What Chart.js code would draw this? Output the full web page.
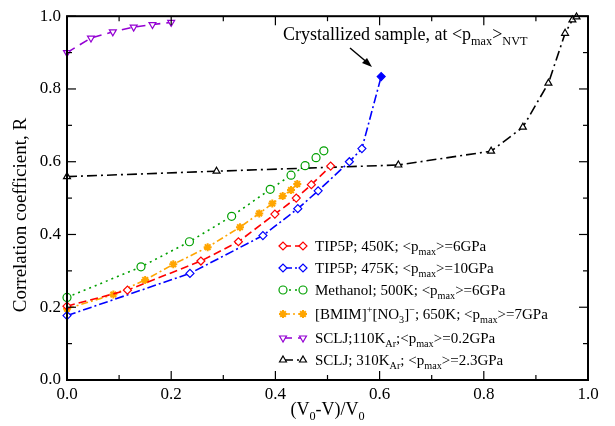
<!DOCTYPE html>
<html>
<head>
<meta charset="utf-8">
<script src="https://cdn.jsdelivr.net/npm/chart.js@4.4.0/dist/chart.umd.min.js"></script>
<style>
  html, body { margin: 0; padding: 0; background: #fff; }
  #wrap { width: 615px; height: 426px; }
</style>
</head>
<body>
<div id="wrap"><canvas id="corrChart" width="615" height="426"></canvas></div>
<script>
// values
const tip450X = [0, 0.116, 0.257, 0.329, 0.399, 0.44, 0.469, 0.506];
const tip450Y = [0.203, 0.247, 0.327, 0.38, 0.456, 0.5, 0.537, 0.588];

const tip475X = [0, 0.236, 0.376, 0.443, 0.482, 0.542, 0.566, 0.603];
const tip475Y = [0.177, 0.293, 0.397, 0.471, 0.52, 0.6, 0.636, 0.834];

const methX = [0, 0.142, 0.235, 0.316, 0.39, 0.43, 0.457, 0.478, 0.493];
const methY = [0.227, 0.311, 0.38, 0.45, 0.524, 0.563, 0.589, 0.611, 0.63];

const bmimX = [0, 0.089, 0.15, 0.204, 0.27, 0.332, 0.369, 0.394, 0.414, 0.43, 0.442];
const bmimY = [0.196, 0.235, 0.275, 0.318, 0.365, 0.42, 0.458, 0.485, 0.506, 0.522, 0.539];

const sclj110X = [0, 0.046, 0.088, 0.128, 0.164, 0.2];
const sclj110Y = [0.90, 0.94, 0.957, 0.97, 0.977, 0.983];

const sclj310X = [0, 0.287, 0.636, 0.814, 0.875, 0.924, 0.956, 0.97, 0.978];
const sclj310Y = [0.559, 0.574, 0.591, 0.629, 0.695, 0.816, 0.953, 0.99, 0.998];

const tickValues = [0, 0.2, 0.4, 0.6, 0.8, 1.0];

const serif = "'Liberation Serif', 'DejaVu Serif', serif";

function pts(xs, ys) {
  return xs.map((x, i) => ({ x: x, y: ys[i] }));
}

function makeSet(label, xs, ys, color, style, dash, extra) {
  return Object.assign({
    label: label,
    data: pts(xs, ys),
    borderColor: color,
    backgroundColor: "#fff",
    pointBorderColor: color,
    pointBackgroundColor: "#fff",
    pointStyle: style,
    pointRadius: 4,
    pointBorderWidth: 1.2,
    borderWidth: 1.6,
    borderDash: dash,
    tension: 0,
    clip: false,
  }, extra || {});
}

// blue run ends on the filled "crystallized" point
const blueFill = tip475X.map((v, i) => (i === tip475X.length - 1 ? "#0000ff" : "#fff"));

const datasets = [
  makeSet("TIP5P; 450K", tip450X, tip450Y, "#ff0000", "rectRot", [8, 4]),
  makeSet("TIP5P; 475K", tip475X, tip475Y, "#0000ff", "rectRot", [9, 3, 2, 3], { pointBackgroundColor: blueFill }),
  makeSet("Methanol", methX, methY, "#00a000", "circle", [2, 4]),
  makeSet("BMIM", bmimX, bmimY, "#ffa500", "star", [7, 3, 2, 3], { pointBorderWidth: 2, pointBackgroundColor: "#ffa500" }),
  makeSet("SCLJ 110K", sclj110X, sclj110Y, "#9400d3", "triangle", [9, 6], { pointRotation: 180 }),
  makeSet("SCLJ 310K", sclj310X, sclj310Y, "#000000", "triangle", [10, 4, 2, 4]),
];

const legendRows = [
  { ds: 0, y: 246, parts: [["TIP5P; 450K; <p"], ["max", "sub"], [">=6GPa"]] },
  { ds: 1, y: 268, parts: [["TIP5P; 475K; <p"], ["max", "sub"], [">=10GPa"]] },
  { ds: 2, y: 290, parts: [["Methanol; 500K; <p"], ["max", "sub"], [">=6GPa"]] },
  { ds: 3, y: 314, parts: [["[BMIM]"], ["+", "sup"], ["[NO"], ["3", "sub"], ["]"], ["\u2212", "sup"], ["; 650K; <p"], ["max", "sub"], [">=7GPa"]] },
  { ds: 4, y: 338, parts: [["SCLJ;110K"], ["Ar", "sub"], [";<p"], ["max", "sub"], [">=0.2GPa"]] },
  { ds: 5, y: 360, parts: [["SCLJ; 310K"], ["Ar", "sub"], ["; <p"], ["max", "sub"], [">=2.3GPa"]] },
];

function drawRich(ctx, parts, x, y, size, align) {
  const small = size * 0.68;
  const widths = parts.map(p => {
    ctx.font = (p[1] ? small : size) + "px " + serif;
    return ctx.measureText(p[0]).width;
  });
  const total = widths.reduce((a, b) => a + b, 0);
  let cx = align === "center" ? x - total / 2 : x;
  ctx.textAlign = "left";
  ctx.textBaseline = "alphabetic";
  parts.forEach((p, i) => {
    ctx.font = (p[1] ? small : size) + "px " + serif;
    let dy = 0;
    if (p[1] === "sub") dy = size * 0.28;
    if (p[1] === "sup") dy = -size * 0.38;
    ctx.fillText(p[0], cx, y + dy);
    cx += widths[i];
  });
}

function line(ctx, x1, y1, x2, y2) {
  ctx.beginPath();
  ctx.moveTo(x1, y1);
  ctx.lineTo(x2, y2);
  ctx.stroke();
}

const decorPlugin = {
  id: "decor",
  afterDatasetsDraw(chart) {
    const ctx = chart.ctx;
    const area = chart.chartArea;
    const xs = chart.scales.x;
    const ys = chart.scales.y;
    ctx.save();
    ctx.fillStyle = "#000";
    ctx.strokeStyle = "#000";

    // frame
    ctx.lineWidth = 2;
    ctx.strokeRect(area.left, area.top, area.right - area.left, area.bottom - area.top);

    // inward ticks on all four sides
    ctx.lineWidth = 1.2;
    for (let i = 0; i <= 10; i++) {
      const v = i / 10;
      const len = i % 2 === 0 ? 9 : 5;
      const px = xs.getPixelForValue(v);
      const py = ys.getPixelForValue(v);
      line(ctx, px, area.bottom, px, area.bottom - len);
      line(ctx, px, area.top, px, area.top + len);
      line(ctx, area.left, py, area.left + len, py);
      line(ctx, area.right, py, area.right - len, py);
    }

    // axis titles
    drawRich(ctx, [["(V"], ["0", "sub"], ["-V)/V"], ["0", "sub"]], (area.left + area.right) / 2, 415, 18, "center");
    ctx.save();
    ctx.translate(21, 215);
    ctx.rotate(-Math.PI / 2);
    ctx.font = "19px " + serif;
    ctx.textAlign = "center";
    ctx.textBaseline = "middle";
    ctx.fillText("Correlation coefficient, R", 0, 0);
    ctx.restore();

    // annotation with arrow
    drawRich(ctx, [["Crystallized sample, at <p"], ["max", "sub"], [">"], ["NVT", "sub"]], 283, 40, 18, "left");
    ctx.lineWidth = 1.5;
    line(ctx, 350, 48, 369, 64);
    ctx.beginPath();
    ctx.moveTo(372, 67);
    ctx.lineTo(362, 63);
    ctx.lineTo(367, 58);
    ctx.closePath();
    ctx.fill();

    // legend
    legendRows.forEach(row => {
      const ds = chart.data.datasets[row.ds];
      ctx.strokeStyle = ds.borderColor;
      ctx.lineWidth = ds.borderWidth;
      ctx.setLineDash(ds.borderDash);
      line(ctx, 283, row.y, 303, row.y);
      ctx.setLineDash([]);
      ctx.lineWidth = ds.pointBorderWidth;
      ctx.fillStyle = row.ds === 3 ? ds.borderColor : "#fff";
      [283, 303].forEach(mx => {
        Chart.helpers.drawPoint(ctx, {
          pointStyle: ds.pointStyle,
          radius: 4,
          rotation: ds.pointRotation || 0,
          borderWidth: ds.pointBorderWidth,
        }, mx, row.y);
      });
      ctx.fillStyle = "#000";
      drawRich(ctx, row.parts, 315, row.y + 5, 15, "left");
    });
    ctx.restore();
  },
};

const corrChart = new Chart(document.getElementById("corrChart").getContext("2d"), {
  type: "line",
  data: { datasets: datasets },
  options: {
    responsive: false,
    animation: false,
    layout: { padding: { top: 13, right: 27, left: 0, bottom: 0 } },
    plugins: {
      legend: { display: false },
      tooltip: { enabled: false },
    },
    scales: {
      x: {
        type: "linear",
        min: 0,
        max: 1,
        afterFit: (scale) => { scale.height = 46; },
        afterBuildTicks: (scale) => { scale.ticks = tickValues.map(v => ({ value: v })); },
        grid: { display: false, drawTicks: false },
        border: { display: false },
        ticks: {
          color: "#000",
          padding: 4,
          maxRotation: 0,
          font: { family: serif, size: 17 },
          callback: (v) => v.toFixed(1),
        },
      },
      y: {
        type: "linear",
        min: 0,
        max: 1,
        afterFit: (scale) => { scale.width = 67; },
        afterBuildTicks: (scale) => { scale.ticks = tickValues.map(v => ({ value: v })); },
        grid: { display: false, drawTicks: false },
        border: { display: false },
        ticks: {
          color: "#000",
          padding: 6,
          font: { family: serif, size: 17 },
          callback: (v) => v.toFixed(1),
        },
      },
    },
  },
  plugins: [decorPlugin],
});
</script>
</body>
</html>
